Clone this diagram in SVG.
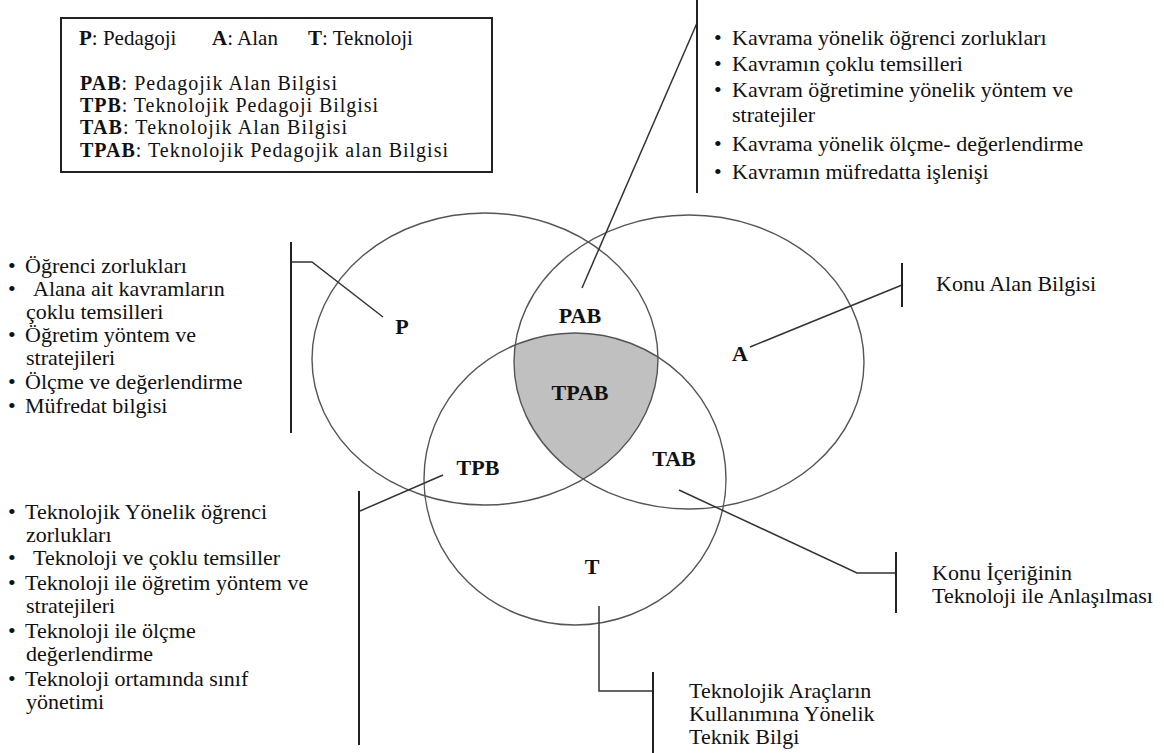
<svg xmlns="http://www.w3.org/2000/svg" width="1164" height="753" viewBox="0 0 1164 753">
<style>
text{font-family:"Liberation Serif","Times New Roman",serif;font-size:22px;fill:#111}
.lg{font-size:21px}
.lg2{font-size:20px}
.b{font-weight:bold}
.lbl{font-weight:bold;text-anchor:middle}
.circ{fill:none;stroke:#555;stroke-width:1.4}
.con{fill:none;stroke:#333;stroke-width:1.5}
.brk{fill:none;stroke:#222;stroke-width:2}
</style>
<defs>
<clipPath id="cP"><ellipse cx="485" cy="359" rx="173" ry="146"/></clipPath>
<clipPath id="cA"><ellipse cx="689" cy="362" rx="175" ry="147"/></clipPath>
</defs>
<rect width="1164" height="753" fill="#fff"/>

<g id="legend">
<rect x="61" y="18" width="431" height="154" fill="#fff" stroke="#222" stroke-width="2"/>
<text class="lg" x="79" y="45"><tspan class="b">P</tspan>: Pedagoji</text>
<text class="lg" x="212" y="45"><tspan class="b">A</tspan>: Alan</text>
<text class="lg" x="308" y="45"><tspan class="b">T</tspan>: Teknoloji</text>
<text class="lg2" x="80" y="90" textLength="257" lengthAdjust="spacing"><tspan class="b">PAB</tspan>: Pedagojik Alan Bilgisi</text>
<text class="lg2" x="80" y="112" textLength="298" lengthAdjust="spacing"><tspan class="b">TPB</tspan>: Teknolojik Pedagoji Bilgisi</text>
<text class="lg2" x="80" y="134" textLength="267" lengthAdjust="spacing"><tspan class="b">TAB</tspan>: Teknolojik Alan Bilgisi</text>
<text class="lg2" x="80" y="157" textLength="368" lengthAdjust="spacing"><tspan class="b">TPAB</tspan>: Teknolojik Pedagojik alan Bilgisi</text>
</g>

<g id="tpab-region" clip-path="url(#cP)"><g clip-path="url(#cA)">
<ellipse cx="575" cy="479" rx="151" ry="146" fill="#c0c0c0"/>
</g></g>

<g id="circle-P"><ellipse class="circ" cx="485" cy="359" rx="173" ry="146"/><text class="lbl" x="402" y="334">P</text></g>
<g id="circle-A"><ellipse class="circ" cx="689" cy="362" rx="175" ry="147"/><text class="lbl" x="740" y="361">A</text></g>
<g id="circle-T"><ellipse class="circ" cx="575" cy="479" rx="151" ry="146"/><text class="lbl" x="592" y="574">T</text></g>
<g id="PAB"><text class="lbl" x="580" y="323">PAB</text></g>
<g id="TPAB"><text class="lbl" x="580" y="400">TPAB</text></g>
<g id="TPB"><text class="lbl" x="478" y="475">TPB</text></g>
<g id="TAB"><text class="lbl" x="674" y="466">TAB</text></g>

<g id="connectors">
<line class="brk" x1="291" y1="242" x2="291" y2="433"/>
<polyline class="con" points="291,262 312,262 383,317"/>
<line class="con" x1="582" y1="288" x2="697" y2="23"/>
<line class="brk" x1="697" y1="0" x2="697" y2="193"/>
<line class="con" x1="750" y1="347" x2="902" y2="285"/>
<line class="brk" x1="902" y1="263" x2="902" y2="307"/>
<line class="con" x1="443" y1="475" x2="360" y2="511"/>
<line class="brk" x1="359" y1="491" x2="359" y2="745"/>
<polyline class="con" points="679,490 857,573 896,573"/>
<line class="brk" x1="896" y1="552" x2="896" y2="613"/>
<polyline class="con" points="599,606 599,691 653,691"/>
<line class="brk" x1="653" y1="672" x2="653" y2="753"/>
</g>

<g id="list-PAB">
<text x="714" y="45">•<tspan x="732">Kavrama yönelik öğrenci zorlukları</tspan></text>
<text x="714" y="71">•<tspan x="732">Kavramın çoklu temsilleri</tspan></text>
<text x="714" y="97">•<tspan x="732">Kavram öğretimine yönelik yöntem ve</tspan></text>
<text x="732" y="122">stratejiler</text>
<text x="714" y="151">•<tspan x="732">Kavrama yönelik ölçme- değerlendirme</tspan></text>
<text x="714" y="179">•<tspan x="732">Kavramın müfredatta işlenişi</tspan></text>
</g>

<g id="list-P">
<text x="8" y="273">•<tspan x="25">Öğrenci zorlukları</tspan></text>
<text x="8" y="296">•<tspan x="33">Alana ait kavramların</tspan></text>
<text x="26" y="319">çoklu temsilleri</text>
<text x="8" y="342">•<tspan x="25">Öğretim yöntem ve</tspan></text>
<text x="26" y="365">stratejileri</text>
<text x="8" y="389">•<tspan x="25">Ölçme ve değerlendirme</tspan></text>
<text x="8" y="413">•<tspan x="25">Müfredat bilgisi</tspan></text>
</g>

<g id="list-TPB">
<text x="8" y="519">•<tspan x="25">Teknolojik Yönelik öğrenci</tspan></text>
<text x="26" y="542">zorlukları</text>
<text x="8" y="565">•<tspan x="33">Teknoloji ve çoklu temsiller</tspan></text>
<text x="8" y="590">•<tspan x="25">Teknoloji ile öğretim yöntem ve</tspan></text>
<text x="26" y="613">stratejileri</text>
<text x="8" y="638">•<tspan x="25">Teknoloji ile ölçme</tspan></text>
<text x="26" y="661">değerlendirme</text>
<text x="8" y="686">•<tspan x="25">Teknoloji ortamında sınıf</tspan></text>
<text x="26" y="709">yönetimi</text>
</g>

<g id="note-A"><text x="936" y="291">Konu Alan Bilgisi</text></g>
<g id="note-TAB">
<text x="932" y="580">Konu İçeriğinin</text>
<text x="932" y="603">Teknoloji ile Anlaşılması</text>
</g>
<g id="note-T">
<text x="689" y="698">Teknolojik Araçların</text>
<text x="689" y="721">Kullanımına Yönelik</text>
<text x="689" y="744">Teknik Bilgi</text>
</g>
</svg>
